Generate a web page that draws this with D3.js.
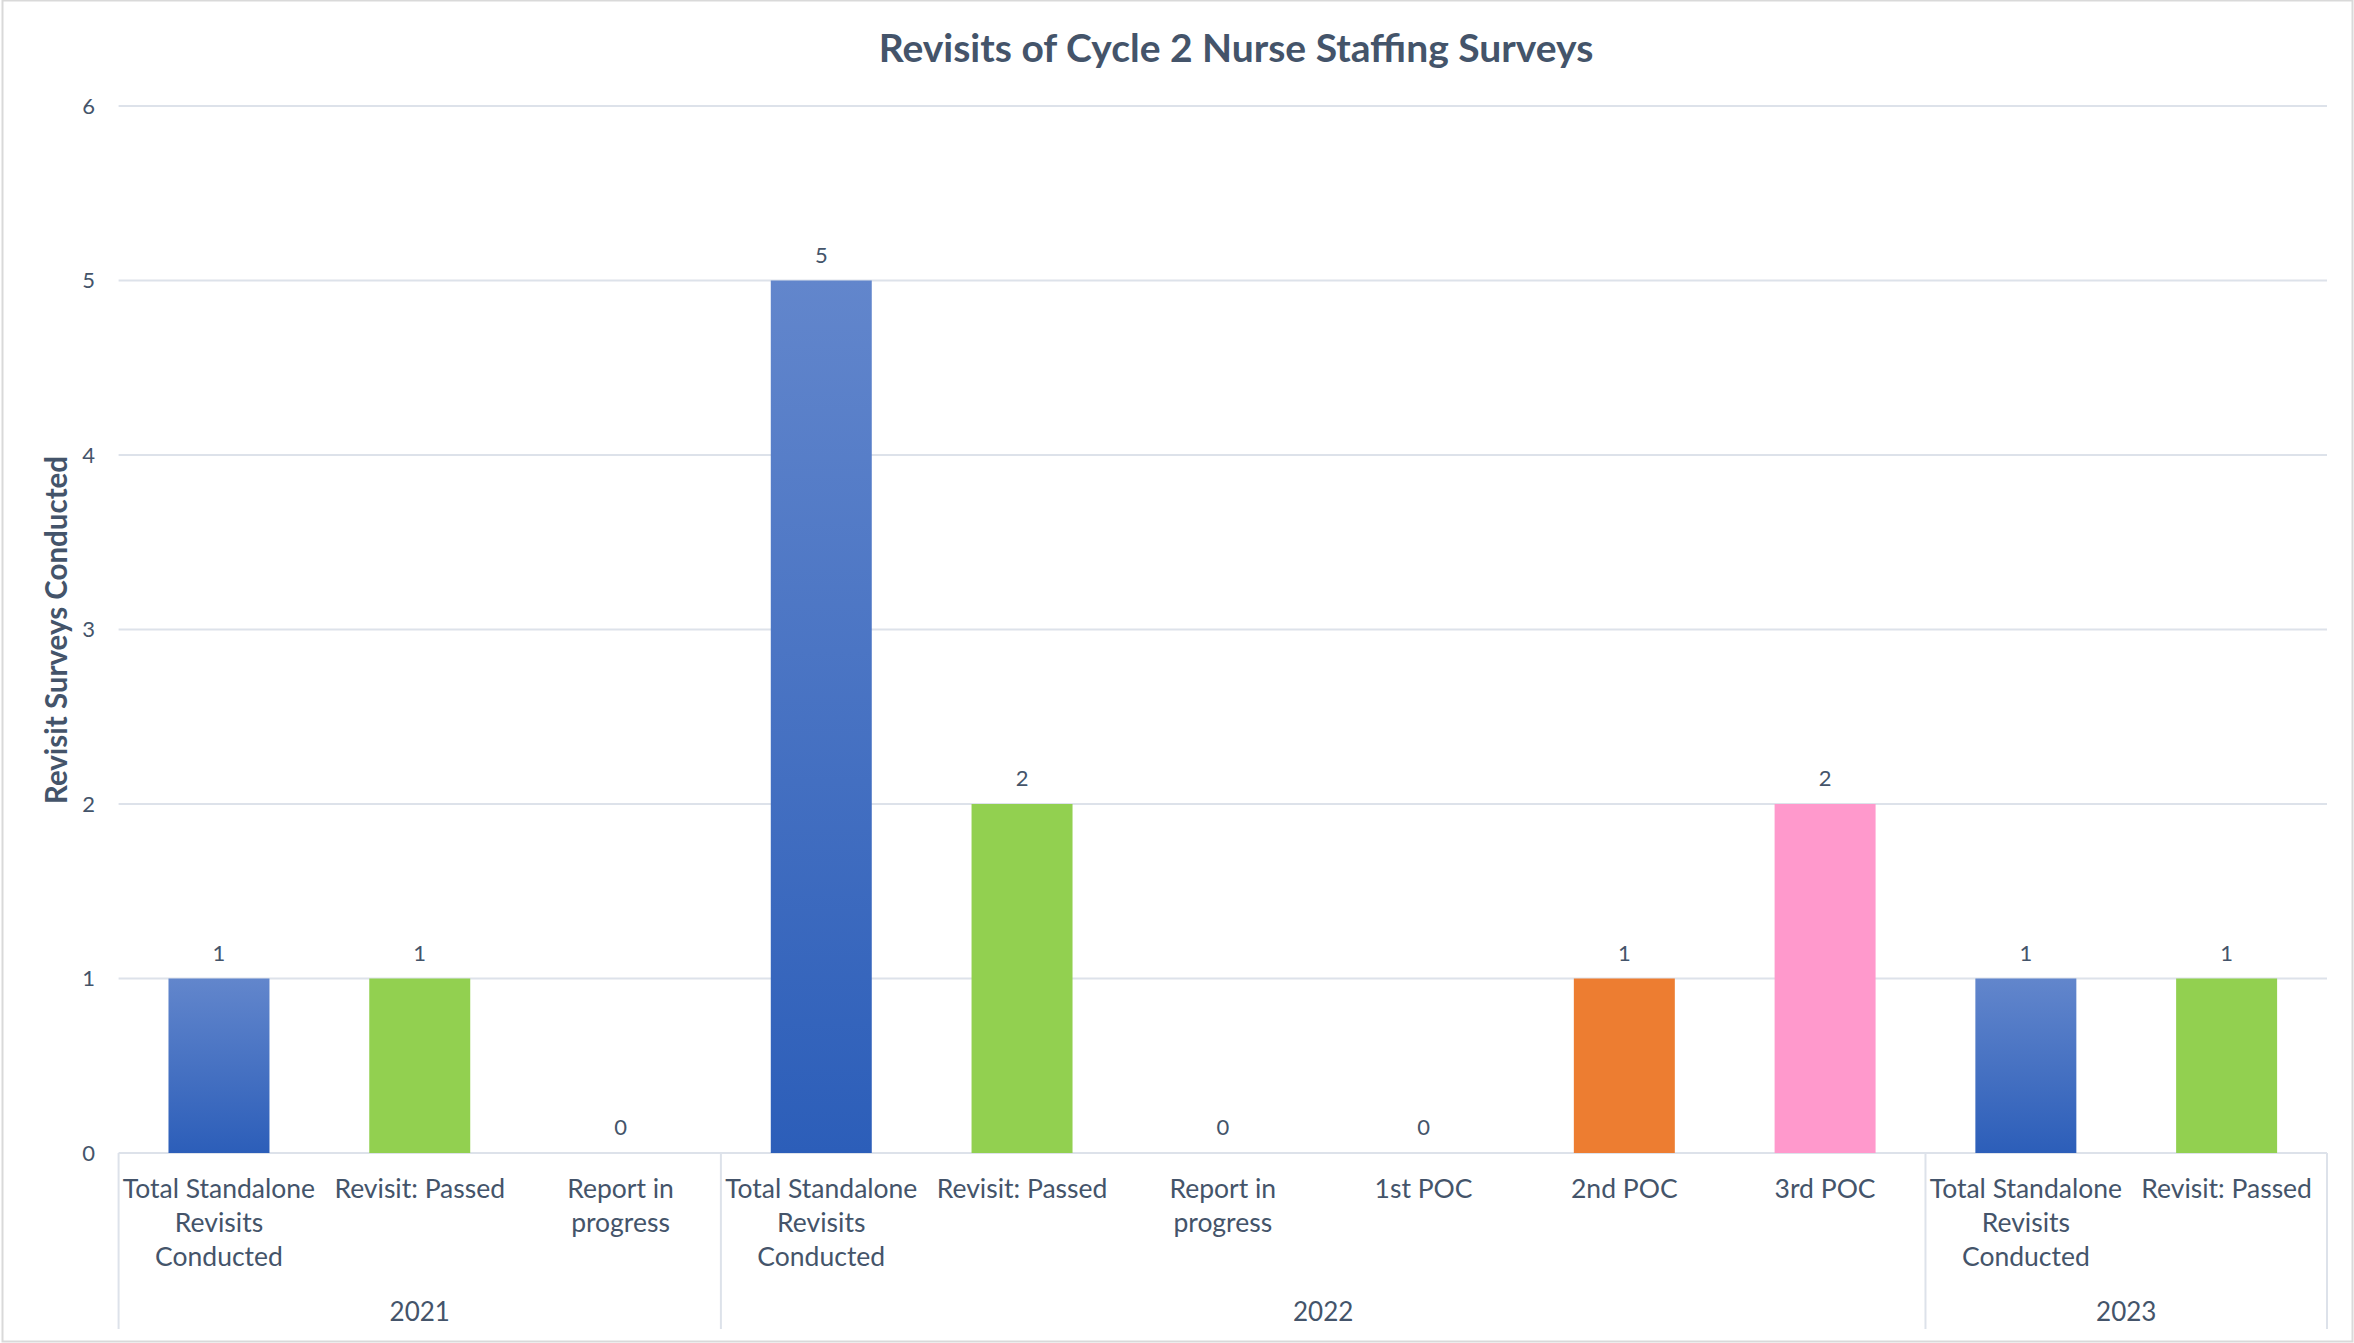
<!DOCTYPE html>
<html>
<head>
<meta charset="utf-8">
<script src="https://cdn.jsdelivr.net/npm/d3@7"></script>
<style>
  body { margin: 0; background: #fff; }
  text { font-family: Lato, "Open Sans", sans-serif; fill: #44546a; }
</style>
</head>
<body>
<svg class="chart" width="2354" height="1343"></svg>
<script>
// data
const years = ["2021", "2022", "2023"]
const yearCounts = [3, 6, 2]
const categories = [
  "Total Standalone\nRevisits\nConducted", "Revisit: Passed", "Report in\nprogress",
  "Total Standalone\nRevisits\nConducted", "Revisit: Passed", "Report in\nprogress",
  "1st POC", "2nd POC", "3rd POC",
  "Total Standalone\nRevisits\nConducted", "Revisit: Passed"
]
const values = [1, 1, 0, 5, 2, 0, 0, 1, 2, 1, 1]
const barColors = ["blue", "#92d050", "#a5a5a5", "blue", "#92d050", "#a5a5a5",
  "#ffc000", "#ed7d31", "#ff99cc", "blue", "#92d050"]
const yTicks = [0, 1, 2, 3, 4, 5, 6]

const W = 2354, H = 1343
const plotL = 118.6, plotR = 2327, plotT = 106, plotB = 1153

const svg = d3.select("svg.chart")

// gradient for the blue bars, per bar
const defs = svg.append("defs")
const grad = defs.append("linearGradient")
  .attr("id", "blueGrad")
  .attr("x1", 0).attr("y1", 0).attr("x2", 0).attr("y2", 1)
grad.append("stop").attr("offset", "0%").attr("stop-color", "#6286cc")
grad.append("stop").attr("offset", "100%").attr("stop-color", "#2c5eb9")

// outer border
svg.append("rect")
  .attr("x", 2.5).attr("y", 0.5)
  .attr("width", W - 4).attr("height", H - 2)
  .attr("fill", "none")
  .attr("stroke", "#d9d9d9")
  .attr("stroke-width", 2)

const x = d3.scaleBand()
  .domain(d3.range(categories.length))
  .range([plotL, plotR])
  .paddingInner(0.497)
  .paddingOuter(0.2485)

const y = d3.scaleLinear()
  .domain([0, 6])
  .range([plotB, plotT])

// gridlines
svg.append("g")
  .selectAll("line")
  .data(yTicks)
  .enter()
  .append("line")
  .attr("x1", plotL).attr("x2", plotR)
  .attr("y1", d => y(d)).attr("y2", d => y(d))
  .attr("stroke", "#dde2ea")
  .attr("stroke-width", 2)

// y tick labels
svg.append("g")
  .selectAll("text")
  .data(yTicks)
  .enter()
  .append("text")
  .attr("x", 95)
  .attr("y", d => y(d))
  .attr("dy", "0.35em")
  .attr("text-anchor", "end")
  .style("font-size", "22px")
  .text(d => d)

// bars
svg.append("g")
  .selectAll("rect")
  .data(values)
  .enter()
  .append("rect")
  .attr("x", (d, i) => x(i))
  .attr("y", d => y(d))
  .attr("width", x.bandwidth())
  .attr("height", d => plotB - y(d))
  .attr("fill", (d, i) => barColors[i] == "blue" ? "url(#blueGrad)" : barColors[i])

// value labels
svg.append("g")
  .selectAll("text")
  .data(values)
  .enter()
  .append("text")
  .attr("x", (d, i) => x(i) + x.bandwidth() / 2)
  .attr("y", d => y(d) - 18)
  .attr("text-anchor", "middle")
  .style("font-size", "22px")
  .text(d => d)

// x axis category labels
const step = x.step()
const catLabels = svg.append("g")
  .selectAll("text")
  .data(categories)
  .enter()
  .append("text")
  .attr("text-anchor", "middle")
  .style("font-size", "26.5px")
catLabels.each(function(d, i) {
  const t = d3.select(this)
  d.split("\n").forEach((line, k) => {
    t.append("tspan")
      .attr("x", plotL + step * (i + 0.5))
      .attr("y", 1198 + k * 34)
      .text(line)
  })
})

// year groups: separators + labels
const bounds = [0]
yearCounts.forEach(c => bounds.push(bounds[bounds.length - 1] + c))

svg.append("g")
  .selectAll("line")
  .data(bounds)
  .enter()
  .append("line")
  .attr("x1", d => plotL + d * step).attr("x2", d => plotL + d * step)
  .attr("y1", plotB).attr("y2", 1329)
  .attr("stroke", "#dde2ea")
  .attr("stroke-width", 2)

svg.append("g")
  .selectAll("text")
  .data(years)
  .enter()
  .append("text")
  .attr("x", (d, i) => plotL + step * (bounds[i] + bounds[i + 1]) / 2)
  .attr("y", 1321)
  .attr("text-anchor", "middle")
  .style("font-size", "26px")
  .text(d => d)

// title
svg.append("text")
  .attr("x", 1236)
  .attr("y", 62)
  .attr("text-anchor", "middle")
  .style("font-size", "39px")
  .style("font-weight", "bold")
  .text("Revisits of Cycle 2 Nurse Staffing Surveys")

// y axis title
svg.append("text")
  .attr("transform", "translate(67,630) rotate(-90)")
  .attr("text-anchor", "middle")
  .style("font-size", "29.5px")
  .style("font-weight", "bold")
  .text("Revisit Surveys Conducted")
</script>
</body>
</html>
